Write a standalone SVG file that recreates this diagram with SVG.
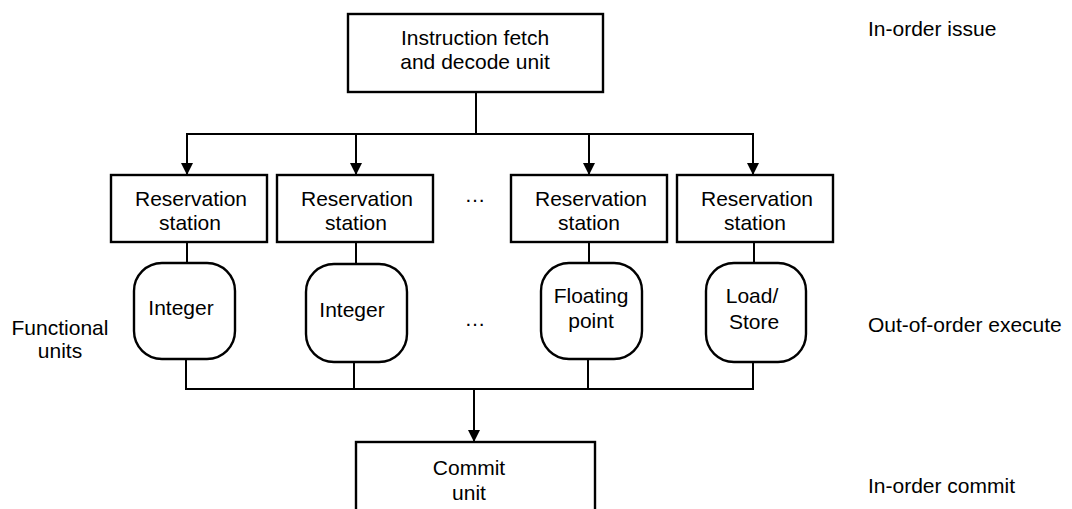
<svg xmlns="http://www.w3.org/2000/svg" width="1072" height="509" viewBox="0 0 1072 509">
  <style>
    .box { fill: #fff; stroke: #000; stroke-width: 2.4; }
    .unit { fill: #fff; stroke: #000; stroke-width: 2.4; }
    .wire { fill: none; stroke: #000; stroke-width: 2; }
    text { font-family: "Liberation Sans", Arial, sans-serif; font-size: 21px; fill: #000; }
    .c { text-anchor: middle; }
  </style>
  <defs>
    <marker id="arrow" viewBox="0 0 12 12" refX="12" refY="6" markerWidth="12" markerHeight="12" markerUnits="userSpaceOnUse" orient="auto">
      <path d="M0,0 L12,6 L0,12 Z" fill="#000"/>
    </marker>
  </defs>

  <rect width="1072" height="509" fill="#fff"/>

  <!-- connectors -->
  <g id="connectors">
    <line class="wire" x1="476" y1="92" x2="476" y2="134"/>
    <line class="wire" x1="186" y1="134" x2="754" y2="134"/>
    <line class="wire" x1="187" y1="134" x2="187" y2="175" marker-end="url(#arrow)"/>
    <line class="wire" x1="356" y1="134" x2="356" y2="175" marker-end="url(#arrow)"/>
    <line class="wire" x1="589" y1="134" x2="589" y2="175" marker-end="url(#arrow)"/>
    <line class="wire" x1="753" y1="134" x2="753" y2="175" marker-end="url(#arrow)"/>
    <!-- station to unit stems -->
    <line class="wire" x1="187" y1="242" x2="187" y2="263"/>
    <line class="wire" x1="356" y1="242" x2="356" y2="264"/>
    <line class="wire" x1="589" y1="242" x2="589" y2="263"/>
    <line class="wire" x1="754" y1="242" x2="754" y2="263"/>
    <!-- result bus -->
    <line class="wire" x1="186" y1="359" x2="186" y2="389"/>
    <line class="wire" x1="354" y1="362" x2="354" y2="389"/>
    <line class="wire" x1="588" y1="359" x2="588" y2="389"/>
    <line class="wire" x1="753" y1="362" x2="753" y2="389"/>
    <line class="wire" x1="185" y1="389" x2="754" y2="389"/>
    <line class="wire" x1="474" y1="389" x2="474" y2="442" marker-end="url(#arrow)"/>
  </g>

  <g id="fetch-decode">
    <rect class="box" x="348" y="14" width="255" height="78"/>
    <text class="c" x="475" y="45">Instruction fetch</text>
    <text class="c" x="475" y="69">and decode unit</text>
  </g>

  <g id="rs1">
    <rect class="box" x="111" y="175" width="156" height="67"/>
    <text class="c" x="191" y="206">Reservation</text>
    <text class="c" x="190" y="230">station</text>
  </g>
  <g id="rs2">
    <rect class="box" x="277" y="175" width="156" height="67"/>
    <text class="c" x="357" y="206">Reservation</text>
    <text class="c" x="356" y="230">station</text>
  </g>
  <g id="rs3">
    <rect class="box" x="511" y="175" width="156" height="67"/>
    <text class="c" x="591" y="206">Reservation</text>
    <text class="c" x="589" y="230">station</text>
  </g>
  <g id="rs4">
    <rect class="box" x="677" y="175" width="156" height="67"/>
    <text class="c" x="757" y="206">Reservation</text>
    <text class="c" x="755" y="230">station</text>
  </g>

  <g id="unit-integer-1">
    <rect class="unit" x="134" y="263" width="101" height="96" rx="28" ry="28"/>
    <text class="c" x="181" y="315">Integer</text>
  </g>
  <g id="unit-integer-2">
    <rect class="unit" x="306" y="264" width="101" height="98" rx="28" ry="28"/>
    <text class="c" x="352" y="317">Integer</text>
  </g>
  <g id="unit-float">
    <rect class="unit" x="541" y="263" width="101" height="96" rx="28" ry="28"/>
    <text class="c" x="591" y="303">Floating</text>
    <text class="c" x="591" y="328">point</text>
  </g>
  <g id="unit-loadstore">
    <rect class="unit" x="706" y="263" width="100" height="99" rx="28" ry="28"/>
    <text class="c" x="752" y="303">Load/</text>
    <text class="c" x="754" y="329">Store</text>
  </g>

  <g id="ellipses">
    <text class="c" x="475" y="202">…</text>
    <text class="c" x="475" y="326">…</text>
  </g>

  <g id="commit">
    <rect class="box" x="356" y="442" width="239" height="70"/>
    <text class="c" x="469" y="475">Commit</text>
    <text class="c" x="469" y="500">unit</text>
  </g>

  <g id="labels">
    <text class="c" x="60" y="335">Functional</text>
    <text class="c" x="60" y="358">units</text>
    <text x="868" y="36">In-order issue</text>
    <text x="868" y="332">Out-of-order execute</text>
    <text x="868" y="493">In-order commit</text>
  </g>
</svg>
